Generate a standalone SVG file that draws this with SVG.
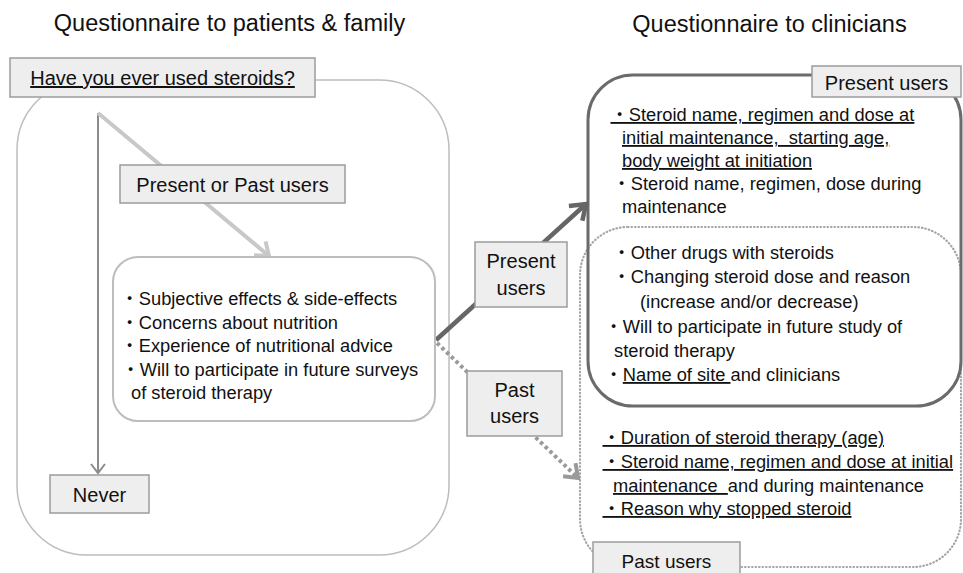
<svg xmlns="http://www.w3.org/2000/svg" width="963" height="573" viewBox="0 0 963 573">
<style>
text{font-family:"Liberation Sans","Noto Sans CJK JP",sans-serif;fill:#111;white-space:pre}
.title{font-size:23.5px}
.lbl{font-size:20px;text-anchor:middle}
.body{font-size:18.3px}
.u{text-decoration:underline}
.box{fill:#eeeeee;stroke:#9c9c9c;stroke-width:1.5}
</style>
<defs>
<marker id="mGray" markerUnits="userSpaceOnUse" viewBox="-14 -10 16 20" markerWidth="16" markerHeight="20" refX="0" refY="0" orient="auto">
<path d="M-9,-7 L0,0 L-9,7" fill="none" stroke="#8c8c8c" stroke-width="2"/>
</marker>
<marker id="mLight" markerUnits="userSpaceOnUse" viewBox="-18 -14 22 28" markerWidth="22" markerHeight="28" refX="0" refY="0" orient="auto">
<path d="M-12,-9 L0,0 L-12,9" fill="none" stroke="#c8c8c8" stroke-width="4"/>
</marker>
<marker id="mDark" markerUnits="userSpaceOnUse" viewBox="-20 -14 26 28" markerWidth="26" markerHeight="28" refX="0" refY="0" orient="auto">
<path d="M-14,-10 L0,0 L-14,10" fill="none" stroke="#666666" stroke-width="4.5"/>
</marker>
<marker id="mDot" markerUnits="userSpaceOnUse" viewBox="-18 -14 22 28" markerWidth="22" markerHeight="28" refX="0" refY="0" orient="auto">
<path d="M-12,-9 L0,0 L-12,9" fill="none" stroke="#9a9a9a" stroke-width="4"/>
</marker>
</defs>
<rect width="963" height="573" fill="#ffffff"/>

<text class="title" x="229.5" y="31" text-anchor="middle">Questionnaire to patients &amp; family</text>
<text class="title" x="769.5" y="32" text-anchor="middle">Questionnaire to clinicians</text>

<g id="patients-frame">
<rect x="17" y="80" width="432" height="475" rx="70" fill="none" stroke="#bdbdbd" stroke-width="1.5"/>
</g>

<g id="clinician-frames">
<rect x="580" y="227" width="381" height="340" rx="48" fill="none" stroke="#a5a5a5" stroke-width="2.2" stroke-dasharray="0.5 3" stroke-linecap="round"/>
<rect x="588" y="75" width="373" height="331" rx="45" fill="none" stroke="#6b6b6b" stroke-width="3"/>
</g>

<g id="connectors">
<line x1="98" y1="113" x2="98" y2="473" stroke="#8c8c8c" stroke-width="2" marker-end="url(#mGray)"/>
<line x1="98" y1="113" x2="269" y2="256" stroke="#c8c8c8" stroke-width="4" marker-end="url(#mLight)"/>
<line x1="436" y1="340" x2="586" y2="204" stroke="#666666" stroke-width="4.5" marker-end="url(#mDark)"/>
<line x1="437" y1="343" x2="578" y2="478" stroke="#9a9a9a" stroke-width="4" stroke-dasharray="3.5 3" marker-end="url(#mDot)"/>
</g>

<g id="q-steroids">
<rect class="box" x="10" y="58" width="305" height="39"/>
<text class="lbl u" x="162.5" y="85">Have you ever used steroids?</text>
</g>

<g id="present-or-past">
<rect class="box" x="120" y="165" width="225" height="38"/>
<text class="lbl" x="232.5" y="192">Present or Past users</text>
</g>

<g id="patient-items">
<rect x="113" y="257" width="322" height="164" rx="25" fill="#ffffff" stroke="#bdbdbd" stroke-width="2"/>
<text class="body" x="120.5" y="305">・Subjective effects &amp; side-effects</text>
<text class="body" x="120.5" y="328.5">・Concerns about nutrition</text>
<text class="body" x="120.5" y="352">・Experience of nutritional advice</text>
<text class="body" x="121.5" y="375.5">・Will to participate in future surveys</text>
<text class="body" x="131" y="399">of steroid therapy</text>
</g>

<g id="never">
<rect class="box" x="50" y="475" width="99" height="38"/>
<text class="lbl" x="99.5" y="502">Never</text>
</g>

<g id="mid-present">
<rect class="box" x="475" y="242" width="92" height="65"/>
<text class="lbl" x="521" y="268">Present</text>
<text class="lbl" x="521" y="295">users</text>
</g>

<g id="mid-past">
<rect class="box" x="467" y="371" width="95" height="65"/>
<text class="lbl" x="514.5" y="397">Past</text>
<text class="lbl" x="514.5" y="423">users</text>
</g>

<g id="present-label">
<rect class="box" x="812" y="66" width="149" height="31"/>
<text class="lbl" x="886.5" y="90">Present users</text>
</g>

<g id="present-items">
<text class="body u" x="610.5" y="121">・Steroid name, regimen and dose at</text>
<text class="body u" x="622" y="144">initial maintenance,  starting age,</text>
<text class="body u" x="622" y="167">body weight at initiation</text>
<text class="body" x="612.5" y="190">・Steroid name, regimen, dose during</text>
<text class="body" x="622" y="213">maintenance</text>
</g>

<g id="shared-items">
<text class="body" x="612.5" y="259">・Other drugs with steroids</text>
<text class="body" x="612.5" y="283">・Changing steroid dose and reason</text>
<text class="body" x="640" y="308">(increase and/or decrease)</text>
<text class="body" x="604.5" y="333">・Will to participate in future study of</text>
<text class="body" x="614" y="357">steroid therapy</text>
<text class="body" x="604.5" y="381">・<tspan class="u">Name of site </tspan>and clinicians</text>
</g>

<g id="past-items">
<text class="body u" x="602.5" y="444">・Duration of steroid therapy (age)</text>
<text class="body u" x="602.5" y="468">・Steroid name, regimen and dose at initial</text>
<text class="body" x="613" y="492"><tspan class="u">maintenance  </tspan>and during maintenance</text>
<text class="body u" x="602.5" y="515">・Reason why stopped steroid</text>
</g>

<g id="past-label">
<rect class="box" x="593" y="542" width="147" height="40"/>
<text class="lbl" x="666.5" y="568" style="font-size:19px">Past users</text>
</g>
</svg>
